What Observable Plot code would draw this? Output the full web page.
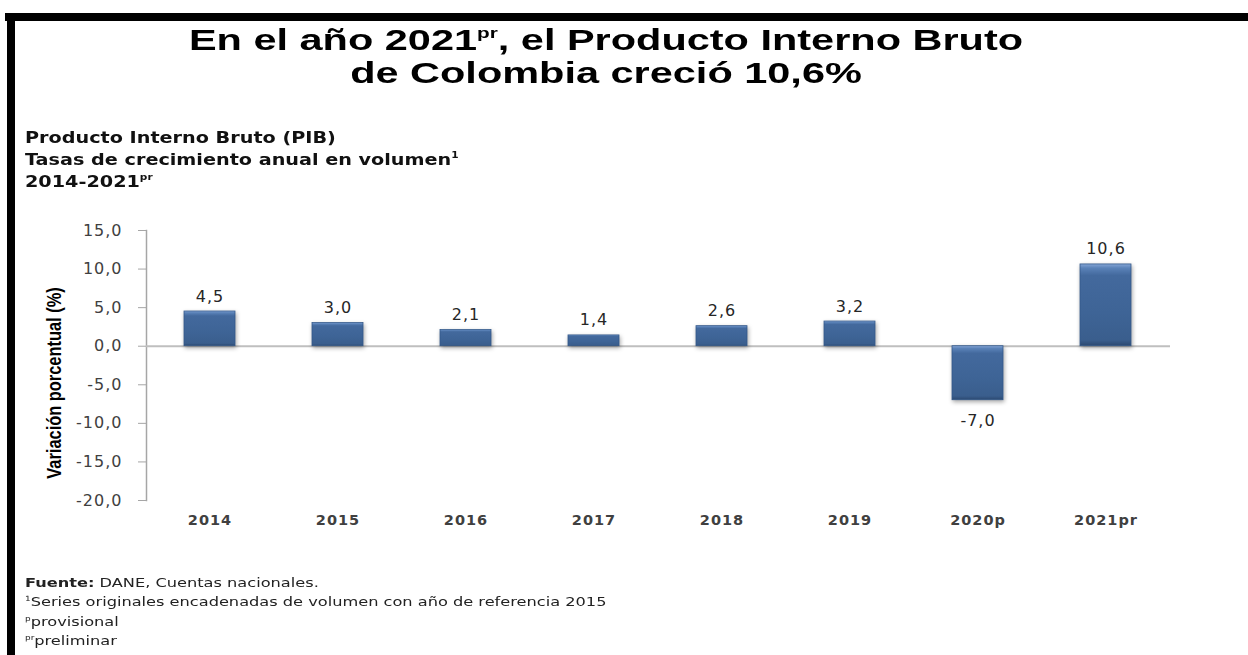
<!DOCTYPE html>
<html>
<head>
<meta charset="utf-8">
<script src="https://cdn.jsdelivr.net/npm/d3@7"></script>
<script src="https://cdn.jsdelivr.net/npm/@observablehq/plot@0.6"></script>
<style>
  html, body { margin: 0; padding: 0; background: #fff; }
  body { width: 1248px; height: 655px; position: relative; overflow: hidden; }
  .bar-top { position: absolute; left: 5px; top: 13px; width: 1243px; height: 8px; background: #000; }
  .bar-left { position: absolute; left: 7px; top: 13px; width: 8px; height: 642px; background: #000; }
  .title { position: absolute; left: 0; top: 24px; width: 1212px; text-align: center;
    font-family: "Liberation Sans", Arial, sans-serif; font-weight: bold; font-size: 29px; line-height: 33px;
    color: #000; transform: scaleX(1.43); transform-origin: 606px 0; }
  .title sup { font-size: 0.5em; line-height: 0; vertical-align: 0.8em; }
  .subtitle { position: absolute; left: 25px; top: 126.5px; font-family: "DejaVu Sans", sans-serif;
    font-weight: bold; font-size: 16px; line-height: 22px; color: #111; white-space: nowrap;
    transform: scaleX(1.2); transform-origin: 0 0; }
  .subtitle sup { font-size: 0.55em; line-height: 0; vertical-align: 0.75em; }
  .ylabel { position: absolute; left: 54px; top: 383px; white-space: nowrap;
    font-family: "Liberation Sans Narrow", "Liberation Sans", Arial, sans-serif; font-weight: bold; font-size: 20px;
    color: #000; transform: translate(-50%, -50%) rotate(-90deg) scaleX(0.82); }
  .notes { position: absolute; left: 25px; top: 573px; font-family: "DejaVu Sans", sans-serif;
    font-size: 13px; line-height: 19.3px; color: #222; white-space: nowrap;
    transform: scaleX(1.245); transform-origin: 0 0; }
  .notes sup { font-size: 0.55em; line-height: 0; vertical-align: 0.75em; }
  #chart { position: absolute; left: 0; top: 210px; }
  #chart svg text { letter-spacing: 1px; }
</style>
</head>
<body>
<div class="bar-top"></div>
<div class="bar-left"></div>
<div class="title">En el año 2021<sup>pr</sup>, el Producto Interno Bruto<br>de Colombia creció 10,6%</div>
<div class="subtitle">Producto Interno Bruto (PIB)<br>Tasas de crecimiento anual en volumen<sup>1</sup><br>2014-2021<sup>pr</sup></div>
<div class="ylabel">Variación porcentual (%)</div>
<div id="chart"></div>
<div class="notes"><b>Fuente:</b> DANE, Cuentas nacionales.<br><sup>1</sup>Series originales encadenadas de volumen con año de referencia 2015<br><sup>p</sup>provisional<br><sup>pr</sup>preliminar</div>
<script>
const years = ["2014", "2015", "2016", "2017", "2018", "2019", "2020p", "2021pr"];
const growth = [4.5, 3.0, 2.1, 1.4, 2.6, 3.2, -7.0, 10.6];
const yTicks = [15, 10, 5, 0, -5, -10, -15, -20];

const data = years.map((y, i) => ({year: y, value: growth[i]}));
const fmt = d => d.toFixed(1).replace(".", ",");

const plot = Plot.plot({
  width: 1248,
  height: 330,
  marginTop: 20,
  marginBottom: 40,
  marginLeft: 146,
  marginRight: 78,
  style: {fontFamily: "DejaVu Sans, sans-serif", fontSize: "16px", color: "#404040", background: "transparent"},
  x: {domain: years, paddingInner: 0.6, paddingOuter: 0.3, label: null},
  y: {domain: [-20, 15], label: null},
  marks: [
    Plot.frame({anchor: "left", stroke: "#a6a6a6", strokeWidth: 1.5}),
    Plot.axisY({ticks: yTicks, tickFormat: fmt, tickSize: 8, tickPadding: 16, stroke: "#a6a6a6", fill: "#404040", fontSize: 16, label: null}),
    Plot.axisX({tickSize: 0, tickPadding: 14, fill: "#404040", fontSize: 14.5, fontWeight: "bold", label: null}),
    Plot.ruleY([0], {stroke: "#bfbfbf", strokeWidth: 2}),
    Plot.barY(data, {x: "year", y: "value", fill: "url(#barGrad)", stroke: "#34598a", strokeWidth: 0.8}),
    Plot.text(data.filter(d => d.value >= 0), {x: "year", y: "value", text: d => fmt(d.value), lineAnchor: "bottom", dy: -10, fill: "#262626", fontSize: 16}),
    Plot.text(data.filter(d => d.value < 0), {x: "year", y: "value", text: d => fmt(d.value), lineAnchor: "top", dy: 14, fill: "#262626", fontSize: 16})
  ]
});

const svg = d3.select(plot);
const defs = svg.insert("defs", ":first-child");
const g = defs.append("linearGradient").attr("id", "barGrad").attr("x1", 0).attr("y1", 0).attr("x2", 0).attr("y2", 1);
[[0, "#86a6d6"], [0.05, "#5a82b8"], [0.14, "#43699d"], [0.6, "#3e6496"], [0.93, "#3a5e8d"], [1, "#2b4870"]]
  .forEach(([o, c]) => g.append("stop").attr("offset", o).attr("stop-color", c));
svg.selectAll("g[aria-label='bar']").style("filter", "drop-shadow(1px 2px 2px rgba(0,0,0,0.35))");

document.getElementById("chart").appendChild(plot);
</script>
</body>
</html>
